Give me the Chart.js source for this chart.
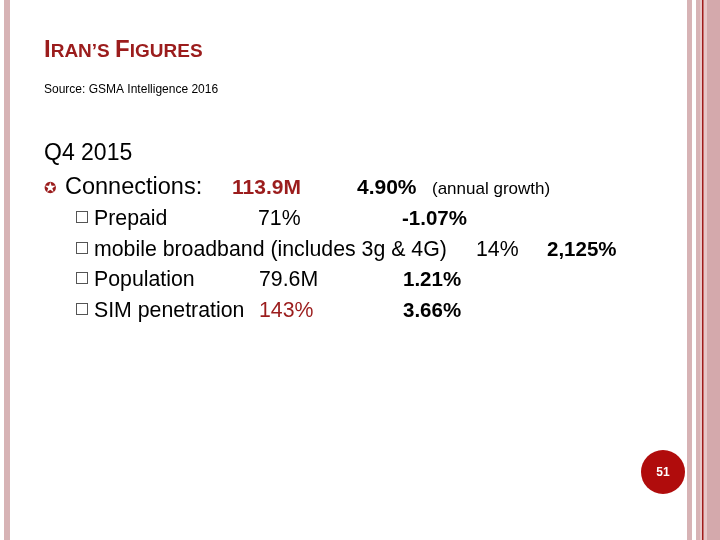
<!DOCTYPE html>
<html><head><meta charset="utf-8">
<script src="https://cdn.jsdelivr.net/npm/chart.js@4"></script>
<style>html,body{margin:0;padding:0;background:#fff}#c{display:block}</style>
</head><body>
<canvas id="c" width="720" height="540"></canvas>
<script>
// slide values
const period = 'Q4 2015';
const connections = '113.9M';
const connGrowth = '4.90%';
const rowLabels = ['Prepaid', 'mobile broadband (includes 3g & 4G)', 'Population', 'SIM penetration'];
const rowValues = ['71%', '14%', '79.6M', '143%'];
const rowGrowth = ['-1.07%', '2,125%', '1.21%', '3.66%'];
const valueX = [258, 476, 259, 259];
const growthX = [402, 547, 403, 403];
const pageNo = '51';

const RED = '#9b1c1c';
const F = 'Arial, "Liberation Sans", sans-serif';

const slidePlugin = {
  id: 'slide',
  afterDraw(chart) {
    const ctx = chart.ctx;
    ctx.save();
    // borders
    ctx.fillStyle = '#d7b3b5';
    ctx.fillRect(4, 0, 6, 540);
    ctx.fillRect(687, 0, 5, 540);
    ctx.fillRect(696, 0, 4, 540);
    ctx.fillStyle = '#e8c6c8';
    ctx.fillRect(700, 0, 20, 540);
    ctx.fillStyle = '#d4a9ac';
    ctx.fillRect(707, 0, 13, 540);
    ctx.fillStyle = '#a01a1a';
    ctx.fillRect(702, 0, 1.5, 540);

    ctx.textBaseline = 'alphabetic';
    // title in small caps
    ctx.fillStyle = RED;
    let x = 44;
    const parts = [['I', 24], ['RAN’S ', 19], ['F', 24], ['IGURES', 19]];
    for (const [t, s] of parts) {
      ctx.font = 'bold ' + s + 'px ' + F;
      ctx.fillText(t, x, 57);
      x += ctx.measureText(t).width;
    }
    ctx.fillStyle = '#000';
    ctx.font = '12px ' + F;
    ctx.fillText('Source: GSMA Intelligence 2016', 44, 93);

    ctx.font = '23px ' + F;
    ctx.fillText(period, 44, 160);
    ctx.fillStyle = RED;
    ctx.font = '15px "DejaVu Sans"';
    ctx.fillText('✪', 44, 193);
    ctx.fillStyle = '#000';
    ctx.font = '23.5px ' + F;
    ctx.fillText('Connections:', 65, 194);
    ctx.font = 'bold 21px ' + F;
    ctx.fillStyle = RED;
    ctx.fillText(connections, 232, 194);
    ctx.fillStyle = '#000';
    ctx.fillText(connGrowth, 357, 194);
    ctx.font = '17px ' + F;
    ctx.fillText('(annual growth)', 432, 194);

    const ys = [225, 256, 286, 317];
    rowLabels.forEach((lab, i) => {
      const y = ys[i];
      ctx.strokeStyle = '#555';
      ctx.lineWidth = 1;
      ctx.strokeRect(76.5, y - 13.5, 11, 11);
      ctx.fillStyle = '#000';
      ctx.font = '21.3px ' + F;
      ctx.fillText(lab, 94, y);
      ctx.fillStyle = i === 3 ? RED : '#000';
      ctx.fillText(rowValues[i], valueX[i], y);
      ctx.fillStyle = '#000';
      ctx.font = 'bold 20.5px ' + F;
      ctx.fillText(rowGrowth[i], growthX[i], y);
    });

    // page badge
    ctx.fillStyle = '#b00c0c';
    ctx.beginPath();
    ctx.arc(663, 472, 22, 0, Math.PI * 2);
    ctx.fill();
    ctx.fillStyle = '#fff';
    ctx.font = 'bold 12px ' + F;
    ctx.textAlign = 'center';
    ctx.fillText(pageNo, 663, 476);
    ctx.restore();
  }
};

new Chart(document.getElementById('c'), {
  type: 'scatter',
  data: { datasets: [] },
  options: {
    responsive: false,
    animation: false,
    plugins: { legend: { display: false }, tooltip: { enabled: false } },
    scales: { x: { display: false }, y: { display: false } }
  },
  plugins: [slidePlugin]
});
</script>
</body></html>
